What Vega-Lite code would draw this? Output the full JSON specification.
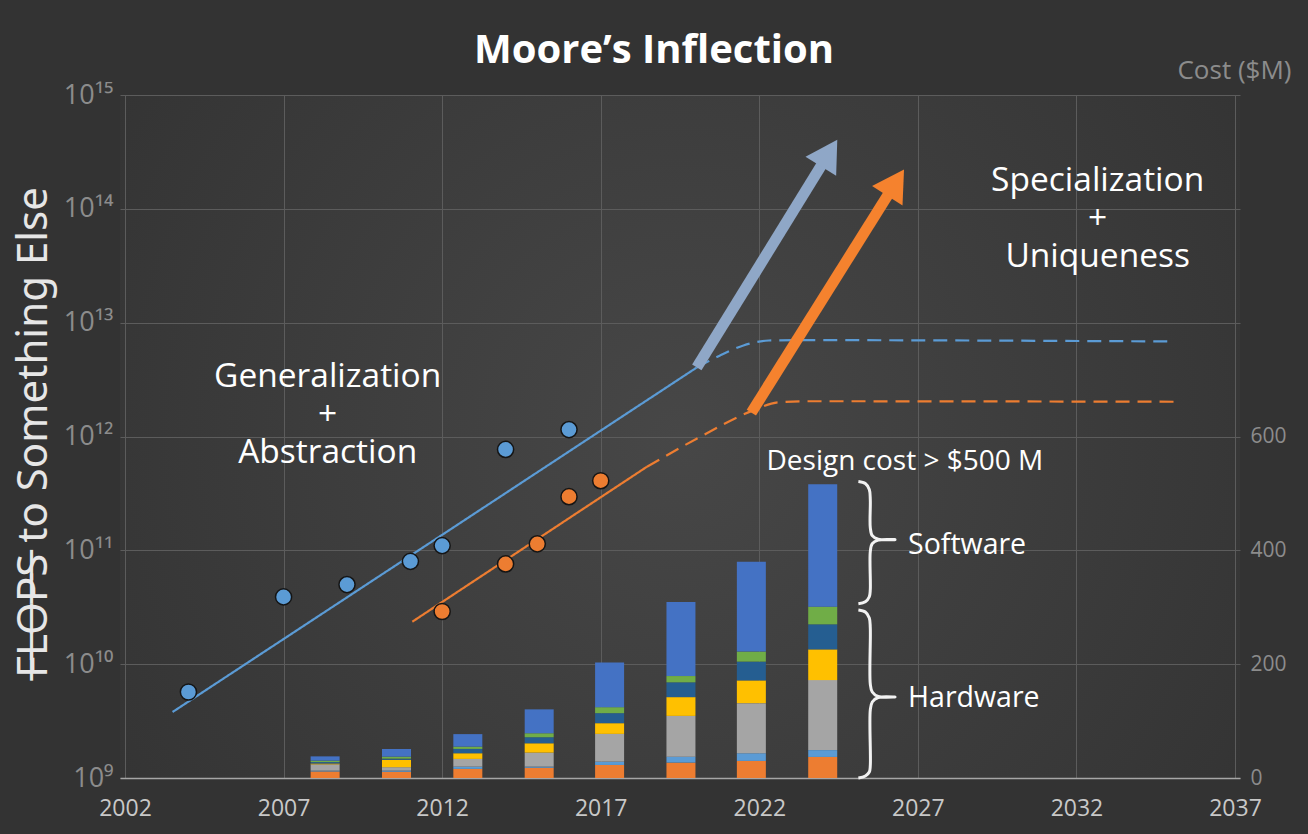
{
  "$schema": "https://vega.github.io/schema/vega-lite/v6.json",
  "width": 1120,
  "height": 683,
  "autosize": {"type": "none"},
  "padding": {"left": 120, "top": 95, "right": 68, "bottom": 56},
  "background": "#333333",
  "title": {"text": "Moore’s Inflection", "font": "Open Sans", "fontSize": 40, "fontWeight": "bold", "color": "#ffffff", "anchor": "middle", "frame": "group", "dx": -26, "dy": 38, "offset": -8, "baseline": "alphabetic"},
  "config": {
    "font": "Open Sans",
    "view": {"stroke": null, "fill": {"gradient": "radial", "x1": 0.5, "y1": 0.5, "x2": 0.5, "y2": 0.5, "r1": 0, "r2": 0.75, "stops": [{"offset": 0, "color": "#474747"}, {"offset": 1, "color": "#2f2f2f"}]}},
    "axisX": {"grid": true, "gridColor": "#5c5c5c", "gridWidth": 1, "ticks": false, "domain": true, "domainColor": "#a6a6a6", "domainWidth": 1.5, "labelColor": "#c8c8c8", "labelFontSize": 23, "labelPadding": 19, "labelFont": "Open Sans", "labelFlush": false}
  },
  "datasets": {
    "dots": [
      {"series": "A", "year": 2004, "flops": 5.7e9},
      {"series": "A", "year": 2007, "flops": 3.9e10},
      {"series": "A", "year": 2009, "flops": 5.0e10},
      {"series": "A", "year": 2011, "flops": 8.0e10},
      {"series": "A", "year": 2012, "flops": 1.1e11},
      {"series": "A", "year": 2014, "flops": 7.7e11},
      {"series": "A", "year": 2016, "flops": 1.15e12},
      {"series": "B", "year": 2012, "flops": 2.9e10},
      {"series": "B", "year": 2014, "flops": 7.6e10},
      {"series": "B", "year": 2015, "flops": 1.14e11},
      {"series": "B", "year": 2016, "flops": 2.96e11},
      {"series": "B", "year": 2017, "flops": 4.09e11}
    ],
    "trend": [
      {"series": "A", "phase": "fit", "year": 2003.5, "flops": 3.8e9},
      {"series": "A", "phase": "fit", "year": 2020.03, "flops": 4.04e12},
      {"series": "A", "phase": "projection", "year": 2020.03, "flops": 4.04e12},
      {"series": "A", "phase": "projection", "year": 2020.75, "flops": 5.13e12},
      {"series": "A", "phase": "projection", "year": 2021.5, "flops": 6.31e12},
      {"series": "A", "phase": "projection", "year": 2022.3, "flops": 6.97e12},
      {"series": "A", "phase": "projection", "year": 2023.2, "flops": 7.02e12},
      {"series": "A", "phase": "projection", "year": 2034.9, "flops": 6.84e12},
      {"series": "B", "phase": "fit", "year": 2011.06, "flops": 2.36e10},
      {"series": "B", "phase": "fit", "year": 2018.46, "flops": 5.43e11},
      {"series": "B", "phase": "projection", "year": 2018.46, "flops": 5.43e11},
      {"series": "B", "phase": "projection", "year": 2020.1, "flops": 9.8e11},
      {"series": "B", "phase": "projection", "year": 2021.75, "flops": 1.67e12},
      {"series": "B", "phase": "projection", "year": 2022.6, "flops": 2.0e12},
      {"series": "B", "phase": "projection", "year": 2023.5, "flops": 2.04e12},
      {"series": "B", "phase": "projection", "year": 2035.1, "flops": 2.02e12}
    ],
    "arrows": [
      {"series": "A arrow", "year": 2020.03, "flops": 4.04e12, "year2": 2024.2, "flops2": 3.1e14},
      {"series": "B arrow", "year": 2021.75, "flops": 1.62e12, "year2": 2026.3, "flops2": 1.7e14}
    ],
    "notesA": [
      {"note": "Generalization\n+\nAbstraction", "year": 2008.39, "flops": 3.3e12},
      {"note": "Specialization\n+\nUniqueness", "year": 2032.67, "flops": 1.75e14}
    ],
    "cost": [
      {"year": 2008.31, "part": "Validation", "k": 1, "cost": 11.5},
      {"year": 2008.31, "part": "Prototype", "k": 2, "cost": 1.5},
      {"year": 2008.31, "part": "Verification", "k": 3, "cost": 11},
      {"year": 2008.31, "part": "Physical design", "k": 4, "cost": 1.5},
      {"year": 2008.31, "part": "Architecture", "k": 5, "cost": 2.5},
      {"year": 2008.31, "part": "IP qualification", "k": 6, "cost": 2.5},
      {"year": 2008.31, "part": "Software", "k": 7, "cost": 7.5},
      {"year": 2010.56, "part": "Validation", "k": 1, "cost": 11},
      {"year": 2010.56, "part": "Prototype", "k": 2, "cost": 2},
      {"year": 2010.56, "part": "Verification", "k": 3, "cost": 6},
      {"year": 2010.56, "part": "Physical design", "k": 4, "cost": 13},
      {"year": 2010.56, "part": "Architecture", "k": 5, "cost": 2},
      {"year": 2010.56, "part": "IP qualification", "k": 6, "cost": 3.5},
      {"year": 2010.56, "part": "Software", "k": 7, "cost": 13.5},
      {"year": 2012.81, "part": "Validation", "k": 1, "cost": 16},
      {"year": 2012.81, "part": "Prototype", "k": 2, "cost": 4},
      {"year": 2012.81, "part": "Verification", "k": 3, "cost": 13.5},
      {"year": 2012.81, "part": "Physical design", "k": 4, "cost": 10},
      {"year": 2012.81, "part": "Architecture", "k": 5, "cost": 7.6},
      {"year": 2012.81, "part": "IP qualification", "k": 6, "cost": 4},
      {"year": 2012.81, "part": "Software", "k": 7, "cost": 22},
      {"year": 2015.06, "part": "Validation", "k": 1, "cost": 18},
      {"year": 2015.06, "part": "Prototype", "k": 2, "cost": 2},
      {"year": 2015.06, "part": "Verification", "k": 3, "cost": 24.6},
      {"year": 2015.06, "part": "Physical design", "k": 4, "cost": 16.4},
      {"year": 2015.06, "part": "Architecture", "k": 5, "cost": 10.6},
      {"year": 2015.06, "part": "IP qualification", "k": 6, "cost": 7},
      {"year": 2015.06, "part": "Software", "k": 7, "cost": 42},
      {"year": 2017.28, "part": "Validation", "k": 1, "cost": 22.9},
      {"year": 2017.28, "part": "Prototype", "k": 2, "cost": 5.9},
      {"year": 2017.28, "part": "Verification", "k": 3, "cost": 48.7},
      {"year": 2017.28, "part": "Physical design", "k": 4, "cost": 18.8},
      {"year": 2017.28, "part": "Architecture", "k": 5, "cost": 17.6},
      {"year": 2017.28, "part": "IP qualification", "k": 6, "cost": 10.6},
      {"year": 2017.28, "part": "Software", "k": 7, "cost": 78.6},
      {"year": 2019.53, "part": "Validation", "k": 1, "cost": 27},
      {"year": 2019.53, "part": "Prototype", "k": 2, "cost": 10.5},
      {"year": 2019.53, "part": "Verification", "k": 3, "cost": 71.6},
      {"year": 2019.53, "part": "Physical design", "k": 4, "cost": 33},
      {"year": 2019.53, "part": "Architecture", "k": 5, "cost": 26},
      {"year": 2019.53, "part": "IP qualification", "k": 6, "cost": 11},
      {"year": 2019.53, "part": "Software", "k": 7, "cost": 130},
      {"year": 2021.75, "part": "Validation", "k": 1, "cost": 30},
      {"year": 2021.75, "part": "Prototype", "k": 2, "cost": 13.5},
      {"year": 2021.75, "part": "Verification", "k": 3, "cost": 88},
      {"year": 2021.75, "part": "Physical design", "k": 4, "cost": 40},
      {"year": 2021.75, "part": "Architecture", "k": 5, "cost": 33},
      {"year": 2021.75, "part": "IP qualification", "k": 6, "cost": 17.6},
      {"year": 2021.75, "part": "Software", "k": 7, "cost": 158},
      {"year": 2024.0, "part": "Validation", "k": 1, "cost": 37},
      {"year": 2024.0, "part": "Prototype", "k": 2, "cost": 12},
      {"year": 2024.0, "part": "Verification", "k": 3, "cost": 123},
      {"year": 2024.0, "part": "Physical design", "k": 4, "cost": 54},
      {"year": 2024.0, "part": "Architecture", "k": 5, "cost": 44},
      {"year": 2024.0, "part": "IP qualification", "k": 6, "cost": 31},
      {"year": 2024.0, "part": "Software", "k": 7, "cost": 215}
    ],
    "braces": [
      {"brace": "Software", "i": 1, "year": 2025.125, "cost": 520.8},
      {"brace": "Software", "i": 2, "year": 2025.344, "cost": 517.3},
      {"brace": "Software", "i": 3, "year": 2025.469, "cost": 506.7},
      {"brace": "Software", "i": 4, "year": 2025.5, "cost": 489.2},
      {"brace": "Software", "i": 5, "year": 2025.5, "cost": 439.9},
      {"brace": "Software", "i": 6, "year": 2025.5625, "cost": 425.8},
      {"brace": "Software", "i": 7, "year": 2025.75, "cost": 419.7},
      {"brace": "Software", "i": 8, "year": 2026.281, "cost": 418.8},
      {"brace": "Software", "i": 9, "year": 2025.75, "cost": 417.9},
      {"brace": "Software", "i": 10, "year": 2025.5625, "cost": 411.7},
      {"brace": "Software", "i": 11, "year": 2025.5, "cost": 397.7},
      {"brace": "Software", "i": 12, "year": 2025.5, "cost": 330.8},
      {"brace": "Software", "i": 13, "year": 2025.469, "cost": 318.5},
      {"brace": "Software", "i": 14, "year": 2025.344, "cost": 309.7},
      {"brace": "Software", "i": 15, "year": 2025.125, "cost": 306.2},
      {"brace": "Hardware", "i": 1, "year": 2025.125, "cost": 295.2},
      {"brace": "Hardware", "i": 2, "year": 2025.344, "cost": 291.6},
      {"brace": "Hardware", "i": 3, "year": 2025.469, "cost": 281.1},
      {"brace": "Hardware", "i": 4, "year": 2025.5, "cost": 263.5},
      {"brace": "Hardware", "i": 5, "year": 2025.5, "cost": 165.1},
      {"brace": "Hardware", "i": 6, "year": 2025.5625, "cost": 151.1},
      {"brace": "Hardware", "i": 7, "year": 2025.75, "cost": 143.2},
      {"brace": "Hardware", "i": 8, "year": 2026.281, "cost": 142.3},
      {"brace": "Hardware", "i": 9, "year": 2025.75, "cost": 141.4},
      {"brace": "Hardware", "i": 10, "year": 2025.5625, "cost": 133.5},
      {"brace": "Hardware", "i": 11, "year": 2025.5, "cost": 119.5},
      {"brace": "Hardware", "i": 12, "year": 2025.5, "cost": 21.1},
      {"brace": "Hardware", "i": 13, "year": 2025.469, "cost": 10.5},
      {"brace": "Hardware", "i": 14, "year": 2025.344, "cost": 3.5},
      {"brace": "Hardware", "i": 15, "year": 2025.125, "cost": 0}
    ],
    "notesB": [
      {"note": "Design cost > $500 M", "year": 2026.59, "cost": 555},
      {"note": "Software", "year": 2026.69, "cost": 409},
      {"note": "Hardware", "year": 2026.69, "cost": 140.5}
    ]
  },
  "layer": [
    {
      "data": {"name": "cost"},
      "mark": {"type": "bar", "width": 29},
      "encoding": {
        "x": {"field": "year", "type": "quantitative", "scale": {"domain": [2002, 2037], "nice": false, "zero": false},
          "axis": {"values": [2002, 2007, 2012, 2017, 2022, 2027, 2032, 2037], "format": "d", "title": null}},
        "y": {"field": "cost", "type": "quantitative", "stack": "zero", "scale": {"domain": [0, 1200], "nice": false},
          "axis": {"orient": "right", "values": [0, 200, 400, 600], "grid": false, "ticks": false, "domain": false,
            "labelColor": "#8c8c8c", "labelFontSize": 21, "labelPadding": 10, "labelFont": "Open Sans",
            "title": "Cost ($M)", "titleColor": "#8c8c8c", "titleFontSize": 26, "titleFontWeight": "normal", "titleFont": "Open Sans",
            "titleAngle": 0, "titleX": -6, "titleY": -25, "titleAlign": "center", "titleBaseline": "middle"}},
        "color": {"field": "part", "type": "nominal", "scale": {"domain": ["Validation", "Prototype", "Verification", "Physical design", "Architecture", "IP qualification", "Software"], "range": ["#ED7D31", "#5B9BD5", "#A5A5A5", "#FFC000", "#255E91", "#70AD47", "#4472C4"]}, "legend": null},
        "order": {"field": "k", "type": "quantitative"}
      }
    },
    {
      "data": {"name": "trend"},
      "mark": {"type": "line", "strokeWidth": 2.2, "interpolate": "monotone"},
      "encoding": {
        "x": {"field": "year", "type": "quantitative", "scale": {"domain": [2002, 2037], "nice": false, "zero": false},
          "axis": {"values": [2002, 2007, 2012, 2017, 2022, 2027, 2032, 2037], "format": "d", "title": null}},
        "y": {"field": "flops", "type": "quantitative", "scale": {"type": "log", "domain": [1e9, 1e15], "nice": false},
          "axis": {"orient": "left", "values": [1e9, 1e10, 1e11, 1e12, 1e13, 1e14, 1e15],
            "labelExpr": "'10' + ['⁹','¹⁰','¹¹','¹²','¹³','¹⁴','¹⁵'][round(log(datum.value) / LN10) - 9]",
            "grid": true, "gridColor": "#5c5c5c", "gridWidth": 1, "ticks": false, "domain": false,
            "labelColor": "#8c8c8c", "labelFontSize": 27, "labelPadding": 7, "labelFont": "Open Sans",
            "title": "F̶L̶O̶P̶S̶ to Something Else", "titleColor": "#e6e6e6", "titleFontSize": 42, "titleFontWeight": "normal", "titleFont": "Noto Sans",
            "titleX": -87, "titleY": 337, "titleAngle": -90, "titleAlign": "center", "titleBaseline": "middle"}},
        "color": {"field": "series", "type": "nominal", "scale": {"domain": ["A", "B"], "range": ["#5B9BD5", "#ED7D31"]}, "legend": null},
        "strokeDash": {"field": "phase", "type": "nominal", "scale": {"domain": ["fit", "projection"], "range": [[1, 0], [14, 8]]}, "legend": null}
      }
    },
    {
      "data": {"name": "dots"},
      "mark": {"type": "point", "filled": true, "size": 260, "opacity": 1, "stroke": "#151515", "strokeWidth": 1.5},
      "encoding": {
        "x": {"field": "year", "type": "quantitative", "scale": {"domain": [2002, 2037], "nice": false, "zero": false},
          "axis": {"values": [2002, 2007, 2012, 2017, 2022, 2027, 2032, 2037], "format": "d", "title": null}},
        "y": {"field": "flops", "type": "quantitative", "scale": {"type": "log", "domain": [1e9, 1e15], "nice": false}, "axis": null},
        "color": {"field": "series", "type": "nominal", "scale": {"domain": ["A", "B"], "range": ["#5B9BD5", "#ED7D31"]}, "legend": null}
      }
    },
    {
      "data": {"name": "arrows"},
      "mark": {"type": "rule", "strokeWidth": 11, "strokeCap": "butt"},
      "encoding": {
        "x": {"field": "year", "type": "quantitative", "scale": {"domain": [2002, 2037], "nice": false, "zero": false},
          "axis": {"values": [2002, 2007, 2012, 2017, 2022, 2027, 2032, 2037], "format": "d", "title": null}},
        "y": {"field": "flops", "type": "quantitative", "scale": {"type": "log", "domain": [1e9, 1e15], "nice": false}, "axis": null},
        "x2": {"field": "year2"},
        "y2": {"field": "flops2"},
        "color": {"field": "series", "type": "nominal", "scale": {"domain": ["A arrow", "B arrow"], "range": ["#8FA7C7", "#F5822E"]}, "legend": null}
      }
    },
    {
      "data": {"name": "arrows"},
      "transform": [{"filter": "datum.series == 'A arrow'"}],
      "mark": {"type": "point", "shape": "triangle-up", "filled": true, "opacity": 1, "size": 1300, "angle": 31.8, "color": "#8FA7C7"},
      "encoding": {
        "x": {"field": "year2", "type": "quantitative", "scale": {"domain": [2002, 2037], "nice": false, "zero": false},
          "axis": {"values": [2002, 2007, 2012, 2017, 2022, 2027, 2032, 2037], "format": "d", "title": null}},
        "y": {"field": "flops2", "type": "quantitative", "scale": {"type": "log", "domain": [1e9, 1e15], "nice": false}, "axis": null}
      }
    },
    {
      "data": {"name": "arrows"},
      "transform": [{"filter": "datum.series == 'B arrow'"}],
      "mark": {"type": "point", "shape": "triangle-up", "filled": true, "opacity": 1, "size": 1300, "angle": 32.4, "color": "#F5822E"},
      "encoding": {
        "x": {"field": "year2", "type": "quantitative", "scale": {"domain": [2002, 2037], "nice": false, "zero": false},
          "axis": {"values": [2002, 2007, 2012, 2017, 2022, 2027, 2032, 2037], "format": "d", "title": null}},
        "y": {"field": "flops2", "type": "quantitative", "scale": {"type": "log", "domain": [1e9, 1e15], "nice": false}, "axis": null}
      }
    },
    {
      "data": {"name": "notesA"},
      "mark": {"type": "text", "font": "Open Sans", "fontSize": 33.5, "color": "#ffffff", "align": "center", "baseline": "middle", "lineBreak": "\n", "lineHeight": 38},
      "encoding": {
        "x": {"field": "year", "type": "quantitative", "scale": {"domain": [2002, 2037], "nice": false, "zero": false},
          "axis": {"values": [2002, 2007, 2012, 2017, 2022, 2027, 2032, 2037], "format": "d", "title": null}},
        "y": {"field": "flops", "type": "quantitative", "scale": {"type": "log", "domain": [1e9, 1e15], "nice": false}, "axis": null},
        "text": {"field": "note"}
      }
    },
    {
      "data": {"name": "braces"},
      "mark": {"type": "line", "color": "#f2f2f2", "strokeWidth": 3, "interpolate": "catmull-rom"},
      "encoding": {
        "x": {"field": "year", "type": "quantitative", "scale": {"domain": [2002, 2037], "nice": false, "zero": false},
          "axis": {"values": [2002, 2007, 2012, 2017, 2022, 2027, 2032, 2037], "format": "d", "title": null}},
        "y": {"field": "cost", "type": "quantitative", "scale": {"domain": [0, 1200], "nice": false}, "axis": null},
        "detail": {"field": "brace", "type": "nominal"},
        "order": {"field": "i", "type": "quantitative"}
      }
    },
    {
      "data": {"name": "notesB"},
      "transform": [{"filter": "datum.note != 'Software' && datum.note != 'Hardware'"}],
      "mark": {"type": "text", "font": "Open Sans", "fontSize": 28, "color": "#ffffff", "align": "center", "baseline": "middle"},
      "encoding": {
        "x": {"field": "year", "type": "quantitative", "scale": {"domain": [2002, 2037], "nice": false, "zero": false},
          "axis": {"values": [2002, 2007, 2012, 2017, 2022, 2027, 2032, 2037], "format": "d", "title": null}},
        "y": {"field": "cost", "type": "quantitative", "scale": {"domain": [0, 1200], "nice": false}, "axis": null},
        "text": {"field": "note"}
      }
    },
    {
      "data": {"name": "notesB"},
      "transform": [{"filter": "datum.note == 'Software' || datum.note == 'Hardware'"}],
      "mark": {"type": "text", "font": "Open Sans", "fontSize": 28.5, "color": "#ffffff", "align": "left", "baseline": "middle"},
      "encoding": {
        "x": {"field": "year", "type": "quantitative", "scale": {"domain": [2002, 2037], "nice": false, "zero": false},
          "axis": {"values": [2002, 2007, 2012, 2017, 2022, 2027, 2032, 2037], "format": "d", "title": null}},
        "y": {"field": "cost", "type": "quantitative", "scale": {"domain": [0, 1200], "nice": false}, "axis": null},
        "text": {"field": "note"}
      }
    }
  ],
  "resolve": {"scale": {"y": "independent", "color": "independent"}}
}
